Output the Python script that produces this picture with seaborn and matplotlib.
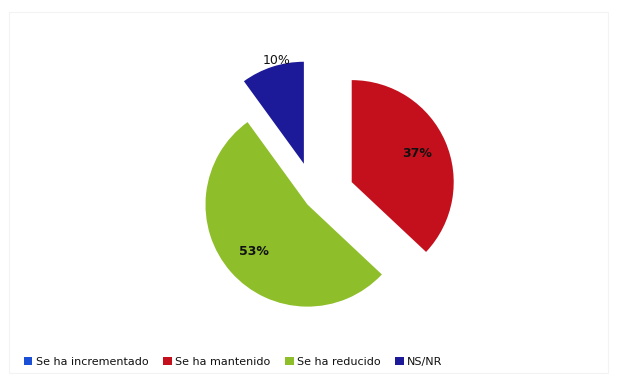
import numpy as np
import matplotlib
matplotlib.use("Agg")
import matplotlib.pyplot as plt
import seaborn as sns
from matplotlib.patches import Patch

sns.set_theme(style="white")
plt.rcParams["font.family"] = ["DejaVu Sans"]

categories = ["Se ha incrementado", "Se ha mantenido", "Se ha reducido", "NS/NR"]
values = [0, 37, 53, 10]
colors = ["#1A4FD6", "#C4101C", "#8EBE2A", "#1C1A98"]
# slice offsets from the centre (in axis units, i.e. pixels here)
explode = [0.0, 40.0, 10.0, 36.0]

W, H = 617, 385
fig = plt.figure(figsize=(W / 100, H / 100), dpi=100)
fig.patch.set_facecolor("white")

# axes in pixel-like units so the pie sits where intended
ax = fig.add_axes([0, 0, 1, 1])

R = 102
center = (315, H - 198)


def pct(p):
    return "" if p < 0.5 else f"{p:.0f}%"


wedges, texts, autotexts = ax.pie(
    values,
    colors=colors,
    explode=explode,
    startangle=90,
    counterclock=False,
    radius=R,
    center=center,
    autopct=pct,
    pctdistance=0.70,
    wedgeprops=dict(linewidth=0),
    textprops=dict(color="#111111", fontsize=9, fontweight="bold"),
    frame=True,
)
ax.set_xlim(0, W)
ax.set_ylim(0, H)
ax.set_aspect("auto")
ax.axis("off")

# the small slice gets its label just outside the rim
w = wedges[3]
mid = np.deg2rad((w.theta1 + w.theta2) / 2)
cx, cy = w.center
autotexts[3].set_position((cx + 1.06 * R * np.cos(mid) + 6, cy + 1.06 * R * np.sin(mid)))
autotexts[3].set_fontweight("normal")

# faint outer frame
frame = plt.Rectangle((9, 12), W - 18, H - 24, transform=ax.transData,
                      fill=False, edgecolor="#F3F3F3", linewidth=0.8)
ax.add_patch(frame)

handles = [Patch(facecolor=c, edgecolor="none") for c in colors]
leg = fig.legend(
    handles, categories,
    loc="center left", bbox_to_anchor=(0.022, 1 - 362 / H),
    ncol=4, frameon=False, fontsize=8,
    handlelength=0.8, handleheight=0.8, handletextpad=0.3,
    columnspacing=1.3,
)
for t in leg.get_texts():
    t.set_color("#111111")

fig.savefig("out.png", dpi=100, facecolor="white")
